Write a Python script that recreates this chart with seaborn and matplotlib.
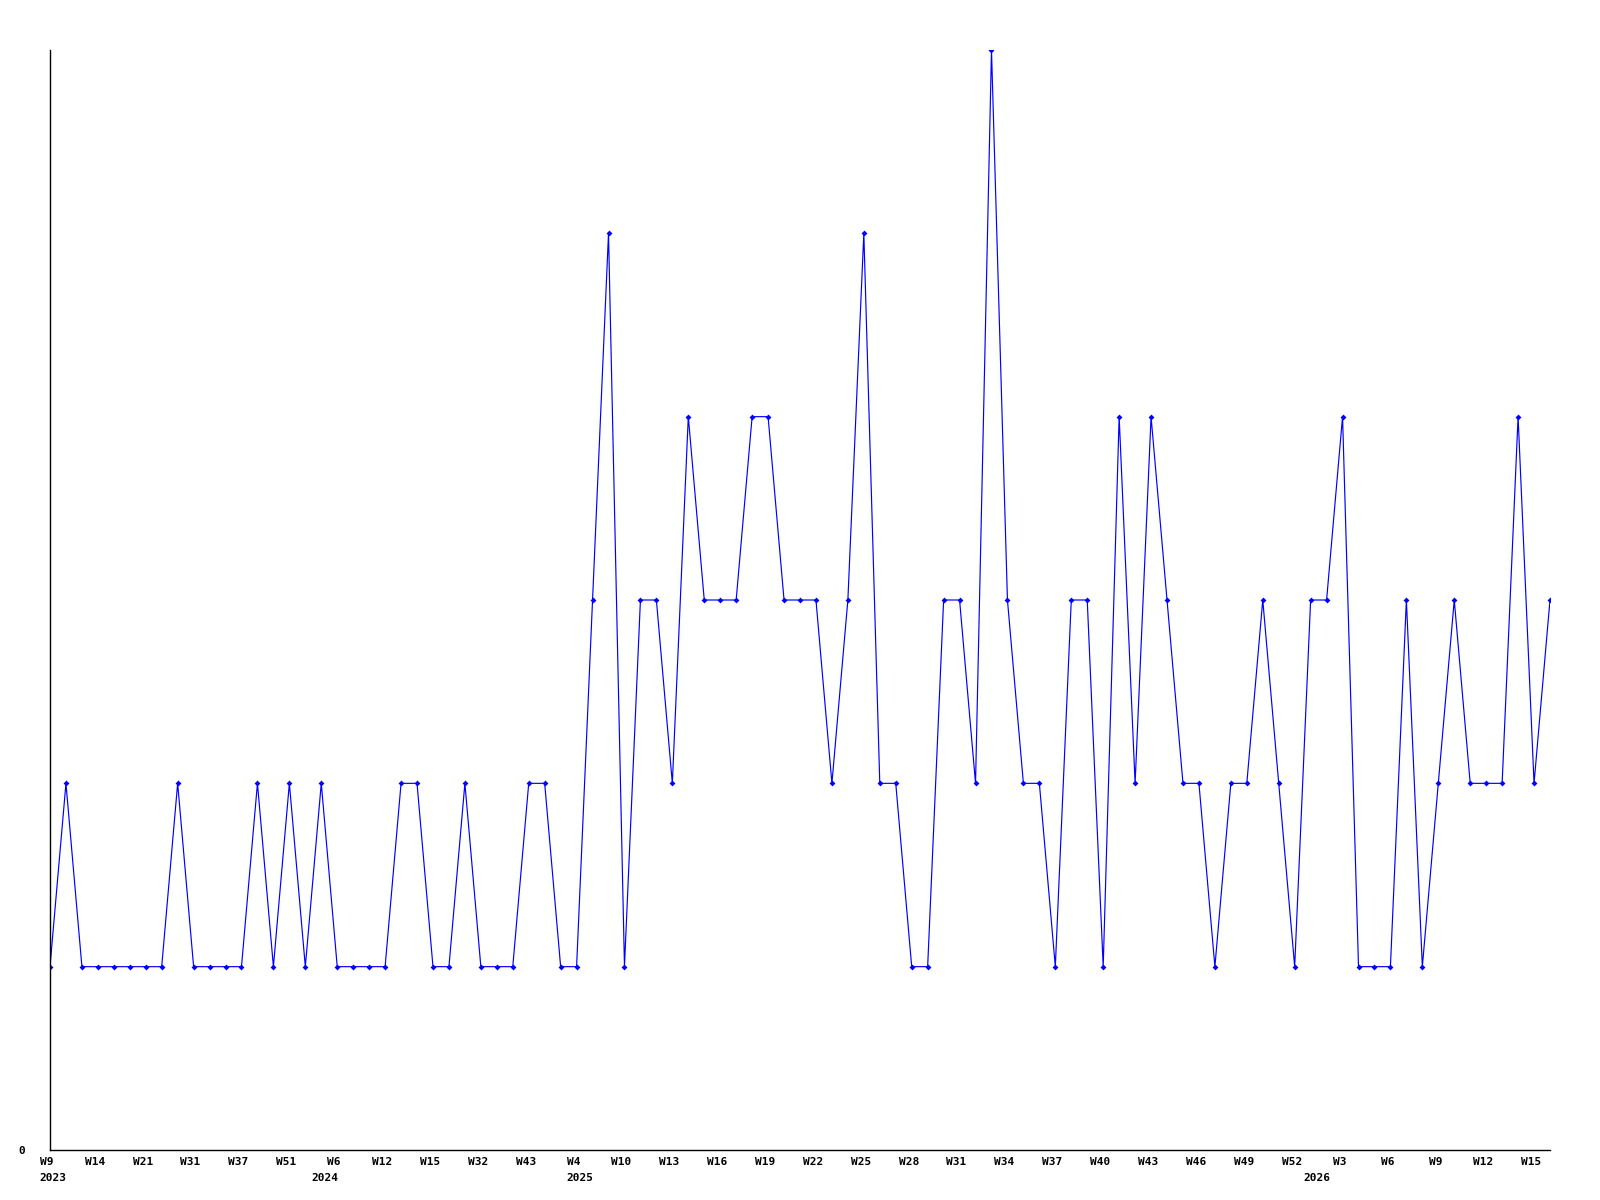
import matplotlib
matplotlib.use("Agg")
import matplotlib.pyplot as plt
import matplotlib.transforms as mtransforms
import seaborn as sns
import pandas as pd

values = [1, 2, 1, 1, 1, 1, 1, 1, 2, 1,
          1, 1, 1, 2, 1, 2, 1, 2, 1, 1,
          1, 1, 2, 2, 1, 1, 2, 1, 1, 1,
          2, 2, 1, 1, 3, 5, 1, 3, 3, 2,
          4, 3, 3, 3, 4, 4, 3, 3, 3, 2,
          3, 5, 2, 2, 1, 1, 3, 3, 2, 6,
          3, 2, 2, 1, 3, 3, 1, 4, 2, 4,
          3, 2, 2, 1, 2, 2, 3, 2, 1, 3,
          3, 4, 1, 1, 1, 3, 1, 2, 3, 2,
          2, 2, 4, 2, 3]

tick_labels = ["W9", "W14", "W21", "W31", "W37", "W51", "W6", "W12", "W15", "W32",
               "W43", "W4", "W10", "W13", "W16", "W19", "W22", "W25", "W28", "W31",
               "W34", "W37", "W40", "W43", "W46", "W49", "W52", "W3", "W6", "W9",
               "W12", "W15"]
tick_step = 3

years = ["2023", "2024", "2025", "2026"]
year_positions = [0.2, 17.2, 33.2, 79.4]

df = pd.DataFrame({"idx": list(range(len(values))), "value": values})

sns.set_style("white")
plt.rcParams["text.color"] = "black"
plt.rcParams["xtick.color"] = "black"
plt.rcParams["ytick.color"] = "black"

fig = plt.figure(figsize=(16, 12), dpi=100)
ax = fig.add_axes([50 / 1600, 50 / 1200, 1500 / 1600, 1100 / 1200])

sns.lineplot(data=df, x="idx", y="value", ax=ax, color="#0000ff", linewidth=0.85,
             marker="D", markersize=3.0, markeredgewidth=0, markerfacecolor="#0000ff")

font = dict(family="DejaVu Sans Mono", weight="bold", size=8, color="black")

ax.set_xticks([i * tick_step for i in range(len(tick_labels))])
ax.set_xticklabels(tick_labels, fontdict=font)
ax.set_yticks([0])
ax.set_yticklabels(["0"], fontdict=font)
ax.tick_params(axis="x", length=0, pad=5)
ax.tick_params(axis="y", length=0, pad=18)

shift = mtransforms.ScaledTranslation(-3 / 100, 0, fig.dpi_scale_trans)
for lbl in ax.get_xticklabels():
    lbl.set_transform(lbl.get_transform() + shift)

ax.set_xlim(0, len(values) - 1)
ax.set_ylim(0, 6)

trans = mtransforms.blended_transform_factory(ax.transData, ax.transAxes)
for y, p in zip(years, year_positions):
    ax.text(p, -0.0205, y, transform=trans, ha="center", va="top", **font)

ax.set_xlabel("")
ax.set_ylabel("")
for s in ["top", "right"]:
    ax.spines[s].set_visible(False)
for s in ["left", "bottom"]:
    ax.spines[s].set_color("black")
    ax.spines[s].set_linewidth(1.0)
ax.grid(False)

fig.savefig("out.png", dpi=100, facecolor="white")
